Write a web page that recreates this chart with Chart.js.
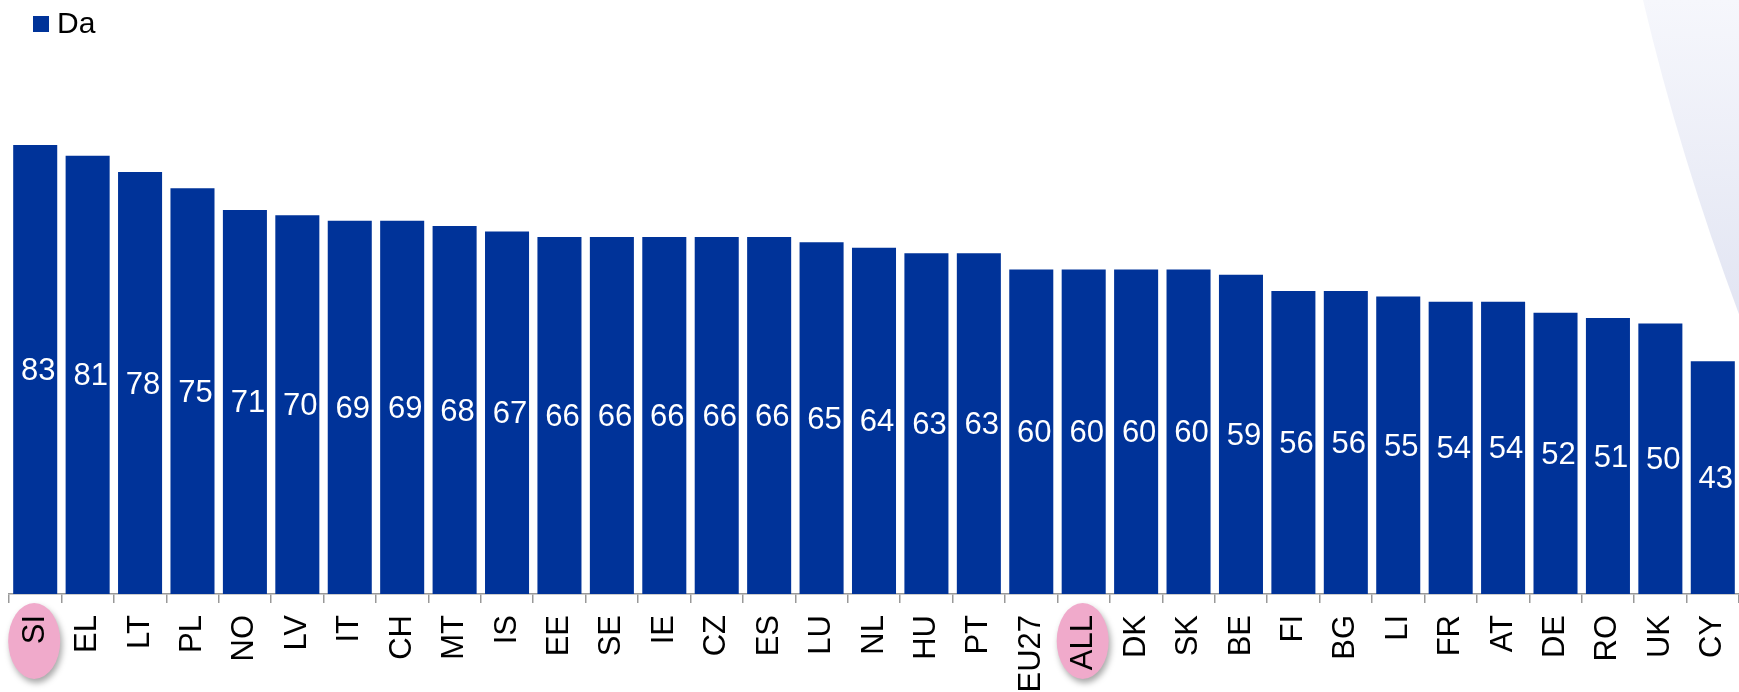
<!DOCTYPE html>
<html>
<head>
<meta charset="utf-8">
<script src="https://cdn.jsdelivr.net/npm/chart.js@4"></script>
<style>
  html, body { margin: 0; padding: 0; background: #ffffff; overflow: hidden; }
  #wrap { width: 1739px; height: 692px; position: relative; overflow: hidden; }
</style>
</head>
<body>
<div id="wrap"><canvas id="c" width="1739" height="692"></canvas></div>
<script>
const categories = ['SI','EL','LT','PL','NO','LV','IT','CH','MT','IS','EE','SE','IE','CZ','ES','LU','NL','HU','PT','EU27','ALL','DK','SK','BE','FI','BG','LI','FR','AT','DE','RO','UK','CY'];
const daValues = [83,81,78,75,71,70,69,69,68,67,66,66,66,66,66,65,64,63,63,60,60,60,60,59,56,56,55,54,54,52,51,50,43];
const seriesLabel = 'Da';
const highlighted = ['SI','ALL'];

const FONT = '"Liberation Sans", Arial, sans-serif';
const BAR_COLOR = '#003399';

const decorPlugin = {
  id: 'decor',
  beforeDraw(chart) {
    const ctx = chart.ctx;
    ctx.save();
    const g = ctx.createLinearGradient(0, 0, 0, 330);
    g.addColorStop(0, '#f6f7fc');
    g.addColorStop(1, '#e1e4f2');
    ctx.fillStyle = g;
    ctx.beginPath();
    ctx.moveTo(1643, 0);
    ctx.quadraticCurveTo(1682, 165, 1745, 330);
    ctx.lineTo(1760, 330);
    ctx.lineTo(1760, 0);
    ctx.closePath();
    ctx.fill();
    ctx.restore();
    const xs = chart.scales.x;
    highlighted.forEach(name => {
      const i = categories.indexOf(name);
      if (i < 0) return;
      const cx = xs.getPixelForValue(i);
      ctx.save();
      ctx.shadowColor = 'rgba(0,0,0,0.35)';
      ctx.shadowBlur = 6;
      ctx.shadowOffsetX = 2;
      ctx.shadowOffsetY = 4;
      ctx.fillStyle = '#f0aacb';
      ctx.beginPath();
      ctx.ellipse(cx - 1, 641, 26, 38, 0, 0, Math.PI * 2);
      ctx.fill();
      ctx.restore();
    });
  },
  afterDatasetsDraw(chart) {
    const ctx = chart.ctx;
    const meta = chart.getDatasetMeta(0);
    ctx.save();
    ctx.fillStyle = '#ffffff';
    ctx.font = '31px ' + FONT;
    ctx.textAlign = 'center';
    ctx.textBaseline = 'middle';
    meta.data.forEach((bar, i) => {
      const v = chart.data.datasets[0].data[i];
      ctx.fillText(String(v), bar.x + 3, (bar.y + bar.base) / 2 + 2);
    });
    ctx.restore();
  },
  afterDraw(chart) {
    const ctx = chart.ctx;
    const ds = chart.data.datasets[0];
    ctx.save();
    ctx.fillStyle = ds.backgroundColor;
    ctx.fillRect(33, 16, 16, 16);
    ctx.fillStyle = '#000000';
    ctx.font = '30px ' + FONT;
    ctx.textAlign = 'left';
    ctx.textBaseline = 'middle';
    ctx.fillText(ds.label, 57, 25);
    ctx.restore();
  }
};

new Chart(document.getElementById('c'), {
  type: 'bar',
  data: {
    labels: categories,
    datasets: [{
      label: seriesLabel,
      data: daValues,
      backgroundColor: BAR_COLOR,
      borderWidth: 0,
      barPercentage: 0.84,
      categoryPercentage: 1.0
    }]
  },
  options: {
    responsive: false,
    animation: false,
    layout: { padding: { left: 9, right: -6, top: 53, bottom: 0 } },
    plugins: {
      legend: { display: false },
      tooltip: { enabled: false }
    },
    scales: {
      y: {
        display: false,
        min: 0,
        max: 100
      },
      x: {
        offset: true,
        afterFit(axis) {
          axis.height = 98;
          axis.paddingLeft = 0;
          axis.paddingRight = 0;
        },
        grid: {
          display: true,
          offset: true,
          drawOnChartArea: false,
          drawTicks: true,
          tickLength: 9,
          color: '#999999',
          lineWidth: 1.5
        },
        border: { display: true, color: '#999999', width: 1.5 },
        ticks: {
          autoSkip: false,
          minRotation: 90,
          maxRotation: 90,
          padding: 12,
          color: '#000000',
          font: { family: FONT, size: 31 }
        }
      }
    }
  },
  plugins: [decorPlugin]
});
</script>
</body>
</html>
